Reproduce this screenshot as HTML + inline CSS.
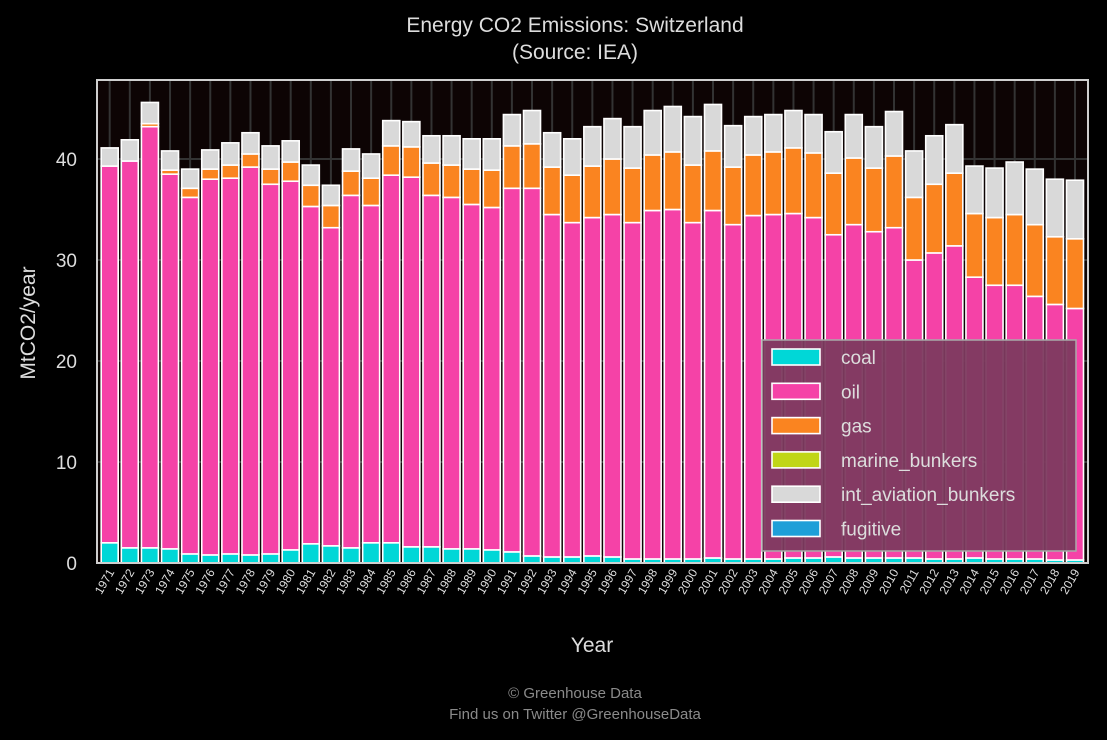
<!DOCTYPE html>
<html><head><meta charset="utf-8"><style>
html,body{margin:0;padding:0;background:#000;}
svg{display:block;font-family:"Liberation Sans",sans-serif;}
</style></head><body>
<svg id="chart" width="1107" height="740">
<rect x="0" y="0" width="1107" height="740" fill="#000"/>
<text x="575" y="32" text-anchor="middle" fill="#ddd" font-size="21">Energy CO2 Emissions: Switzerland</text>
<text x="575" y="59" text-anchor="middle" fill="#ddd" font-size="21">(Source: IEA)</text>
<rect x="97" y="80" width="991" height="483" fill="#0d0404"/>
<g id="grid"></g>
<g id="bars"></g>
<rect x="97" y="80" width="991" height="483" fill="none" stroke="#cfcfcf" stroke-width="2"/>
<g id="yaxis"></g>
<g id="xaxis"></g>
<text transform="translate(35,323) rotate(-90)" text-anchor="middle" fill="#ddd" font-size="21">MtCO2/year</text>
<text x="592" y="652" text-anchor="middle" fill="#ddd" font-size="21">Year</text>
<g id="legend"></g>
<text x="575" y="698" text-anchor="middle" fill="#8a8a8a" font-size="15">© Greenhouse Data</text>
<text x="575" y="719" text-anchor="middle" fill="#8a8a8a" font-size="15">Find us on Twitter @GreenhouseData</text>
</svg>
<script>
const years = [];
for (let y = 1971; y <= 2019; y++) years.push(y);
const coal = [2.0,1.5,1.5,1.4,0.9,0.8,0.9,0.8,0.9,1.3,1.9,1.7,1.5,2.0,2.0,1.6,1.6,1.4,1.4,1.3,1.1,0.7,0.6,0.6,0.7,0.6,0.4,0.4,0.4,0.4,0.5,0.4,0.4,0.4,0.5,0.5,0.6,0.5,0.5,0.5,0.5,0.4,0.4,0.5,0.4,0.4,0.4,0.3,0.3];
const oilTop = [39.3,39.8,43.2,38.5,36.2,38.0,38.1,39.2,37.5,37.8,35.3,33.2,36.4,35.4,38.4,38.2,36.4,36.2,35.5,35.2,37.1,37.1,34.5,33.7,34.2,34.5,33.7,34.9,35.0,33.7,34.9,33.5,34.4,34.5,34.6,34.2,32.5,33.5,32.8,33.2,30.0,30.7,31.4,28.3,27.5,27.5,26.4,25.6,25.2];
const gasTop = [39.3,39.8,43.5,38.9,37.1,39.0,39.4,40.5,39.0,39.7,37.4,35.4,38.8,38.1,41.3,41.2,39.6,39.4,39.0,38.9,41.3,41.5,39.2,38.4,39.3,40.0,39.1,40.4,40.7,39.4,40.8,39.2,40.4,40.7,41.1,40.6,38.6,40.1,39.1,40.3,36.2,37.5,38.6,34.6,34.2,34.5,33.5,32.3,32.1];
const totalTop = [41.1,41.9,45.6,40.8,39.0,40.9,41.6,42.6,41.3,41.8,39.4,37.4,41.0,40.5,43.8,43.7,42.3,42.3,42.0,42.0,44.4,44.8,42.6,42.0,43.2,44.0,43.2,44.8,45.2,44.2,45.4,43.3,44.2,44.4,44.8,44.4,42.7,44.4,43.2,44.7,40.8,42.3,43.4,39.3,39.1,39.7,39.0,38.0,37.9];
const oil = oilTop.map((v,i)=>+(v-coal[i]).toFixed(2));
const gas = gasTop.map((v,i)=>+(v-oilTop[i]).toFixed(2));
const marine = years.map(()=>0);
const aviation = totalTop.map((v,i)=>+(v-gasTop[i]).toFixed(2));
const fugitive = years.map(()=>0);
const yTicks = [0,10,20,30,40];
const seriesNames = ["coal","oil","gas","marine_bunkers","int_aviation_bunkers","fugitive"];
const seriesColors = ["#00d7d7","#f542a7","#fa8420","#c0d617","#d9d9d9","#1e9fd8"];
const seriesData = [coal,oil,gas,marine,aviation,fugitive];

const NS="http://www.w3.org/2000/svg";
function mk(tag,attrs,parent){const e=document.createElementNS(NS,tag);for(const k in attrs)e.setAttribute(k,attrs[k]);parent.appendChild(e);return e;}
const X0=109.7, DX=(1075-109.7)/48, BW=17;
const xs=i=>X0+i*DX;
const ys=v=>563-v*10.1;
const grid=document.getElementById('grid'), bars=document.getElementById('bars');
const yaxis=document.getElementById('yaxis'), xaxis=document.getElementById('xaxis');
yTicks.forEach(t=>{
  const l=mk('line',{x1:97,x2:1088,y1:ys(t),y2:ys(t),stroke:'#333',"stroke-width":2},grid);
  
  
  const tx=mk('text',{x:77,y:ys(t)+7,"text-anchor":"end",fill:'#ddd',"font-size":19},yaxis);
  tx.textContent=t;
  
  
});
years.forEach((yr,i)=>{
  const l=mk('line',{x1:xs(i),x2:xs(i),y1:80,y2:563,stroke:'#333',"stroke-width":2},grid);
  
  
  let base=0;
  seriesData.forEach((arr,s)=>{
    const v=arr[i];
    if(v<=0)return;
    const r=mk('rect',{x:xs(i)-BW/2,y:ys(base+v),width:BW,height:v*10.1,fill:seriesColors[s],stroke:'#fff',"stroke-width":1.6},bars);
    
    
    base+=v;
  });
  const tx=mk('text',{transform:`translate(${xs(i)+5},572) rotate(-60)`,"text-anchor":"end",fill:'#ddd',"font-size":12},xaxis);
  tx.textContent=yr;
  
  
});
const leg=document.getElementById('legend');
const lb=mk('rect',{x:762,y:340,width:314,height:211,fill:'rgba(125,58,95,0.95)',stroke:'#aaa',"stroke-width":1.5},leg);


seriesNames.forEach((n,s)=>{
  const y=349+s*34.3;
  const sw=mk('rect',{x:772,y:y,width:48,height:16,fill:seriesColors[s],stroke:'#fff',"stroke-width":1.6},leg);
  
  
  const t=mk('text',{x:841,y:y+15,fill:'#ddd',"font-size":19},leg);
  t.textContent=n;
  
  
});
</script>
</body></html>
